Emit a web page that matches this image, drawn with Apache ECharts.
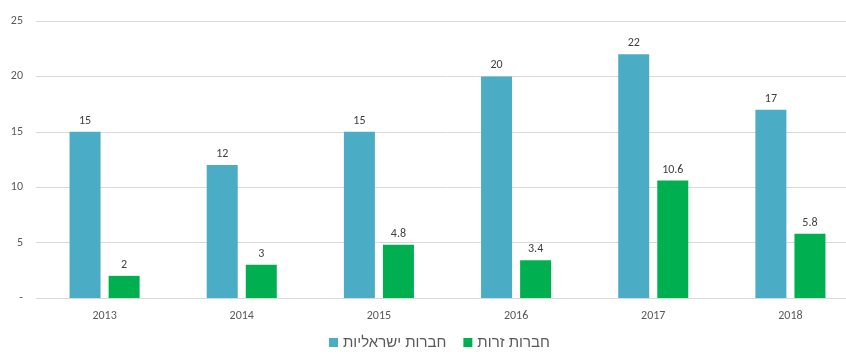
<!DOCTYPE html>
<html>
<head>
<meta charset="utf-8">
<script src="https://cdn.jsdelivr.net/npm/echarts@6/dist/echarts.min.js"></script>
<style>
  html, body { margin: 0; padding: 0; background: #fff; overflow: hidden; }
  /* the plot area runs a little past the right edge of the window */
  #chart { width: 859px; height: 356px; }
</style>
</head>
<body>
<div id="chart"></div>
<script>
// Years on the category axis
const years = ['2013', '2014', '2015', '2016', '2017', '2018'];
// Israeli companies
const israeli = [15, 12, 15, 20, 22, 17];
// Foreign companies
const foreign = [2, 3, 4.8, 3.4, 10.6, 5.8];
// Series names shown in the legend
const israeliName = 'חברות ישראליות';
const foreignName = 'חברות זרות';
// Value axis ticks
const yMin = 0, yMax = 25, yStep = 5;

const fontFamily = 'Carlito, "Liberation Sans", "DejaVu Sans", sans-serif';

const chart = echarts.init(document.getElementById('chart'), null, { renderer: 'canvas' });

const labelStyle = {
  show: true,
  position: 'top',
  distance: 5,
  color: '#404040',
  fontSize: 12,
  fontFamily: fontFamily
};

chart.setOption({
  animation: false,
  textStyle: { fontFamily: fontFamily },
  grid: { left: 36, top: 21, right: 0, bottom: 58, containLabel: false },
  legend: {
    bottom: 1,
    left: 324,
    itemWidth: 9,
    itemHeight: 9,
    itemGap: 17,
    icon: 'rect',
    textStyle: { color: '#595959', fontSize: 15, fontFamily: '"Liberation Sans", "DejaVu Sans", sans-serif' },
    data: [israeliName, foreignName]
  },
  xAxis: {
    type: 'category',
    data: years,
    axisLine: { show: true, lineStyle: { color: '#d9d9d9', width: 1 } },
    axisTick: { show: false },
    axisLabel: { color: '#595959', fontSize: 12, margin: 12 }
  },
  yAxis: {
    type: 'value',
    min: yMin,
    max: yMax,
    interval: yStep,
    axisLine: { show: false },
    axisTick: { show: false },
    splitLine: { lineStyle: { color: '#d9d9d9', width: 1 } },
    axisLabel: {
      color: '#595959',
      fontSize: 12,
      margin: 13,
      formatter: v => (v === 0 ? '-' : String(v))
    }
  },
  series: [
    {
      name: israeliName,
      type: 'bar',
      data: israeli,
      barWidth: 31,
      barGap: '26%',
      itemStyle: { color: '#4BACC6' },
      label: labelStyle
    },
    {
      name: foreignName,
      type: 'bar',
      data: foreign,
      barWidth: 31,
      barGap: '26%',
      itemStyle: { color: '#00B050' },
      label: labelStyle
    }
  ]
});
</script>
</body>
</html>
